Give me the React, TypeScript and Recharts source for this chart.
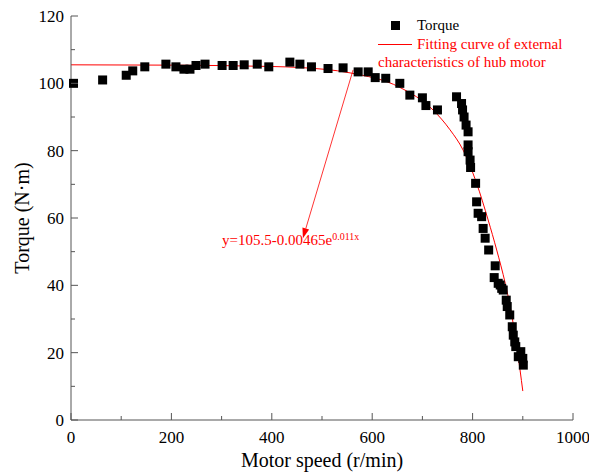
import React from "react"
import {
  ComposedChart,
  Scatter,
  Line,
  XAxis,
  YAxis,
  ReferenceLine,
} from "recharts"

const SERIF = "'Liberation Serif', 'Times New Roman', serif"
const AXIS = "#555"

const speed = [
  5, 63, 110, 123, 147, 189, 209, 225, 237, 249, 267, 301, 323, 345, 371, 394,
  436, 456, 479, 512, 542, 572, 592, 606, 627, 655, 675, 700, 707, 730, 768,
  778, 780, 783, 787, 791, 791, 791, 795, 796, 806, 808, 811, 818, 821, 825,
  832, 845, 843, 851, 855, 858, 861, 867, 869, 874, 879, 881, 884, 886, 891,
  896, 900, 901,
]
const torque = [
  100, 101, 102.4, 103.7, 104.9, 105.7, 104.9, 104.2, 104.2, 105.3, 105.7,
  105.3, 105.3, 105.5, 105.7, 104.9, 106.3, 105.7, 104.9, 104.4, 104.6, 103.4,
  103.4, 101.7, 101.5, 100, 96.5, 95.7, 93.4, 92.1, 96, 94, 92.1, 90, 87.6,
  85.6, 81.7, 79.7, 77.2, 75, 70.3, 64.8, 61.4, 60.4, 56.9, 54, 50.5, 45.8,
  42.3, 40.6, 40.1, 39.1, 38.6, 35.6, 33.7, 31.2, 27.7, 25.2, 23.2, 21.8, 18.8,
  20.3, 18.3, 16.3,
]

// fitted curve
const fitSpeed = [0, 200, 400, 456, 556, 655, 721, 755, 781, 808, 831, 848, 865, 875, 889, 900]
const fitTorque = [105.5, 105.4, 105, 104.7, 103.1, 98.8, 92.1, 86.2, 80.2, 70.3, 59.4, 50.5, 40.6, 33.6, 20.8, 8.6]

const xTicks = [0, 100, 200, 300, 400, 500, 600, 700, 800, 900, 1000]
const yTicks = [0, 10, 20, 30, 40, 50, 60, 70, 80, 90, 100, 110, 120]

// arrow from the curve down to the equation
const arrowFrom = { x: 562, y: 104 }
const arrowTo = { x: 462, y: 54 }

const points = speed.map((s, i) => ({ x: s, y: torque[i] }))
const fit = fitSpeed.map((s, i) => ({ x: s, y: fitTorque[i] }))

const Square = (p: any) => (
  <rect x={p.cx - 4.5} y={p.cy - 4.5} width={9} height={9} fill="#000" />
)

const XTick = ({ x, y, payload }: any) => {
  const major = payload.value % 200 === 0
  return (
    <g>
      <line x1={x} x2={x} y1={y} y2={y - (major ? 7 : 4)} stroke={AXIS} />
      {major && (
        <text x={x} y={y + 23} textAnchor="middle" fontSize={17} fontFamily={SERIF} fill="#000">
          {payload.value}
        </text>
      )}
    </g>
  )
}

const YTick = ({ x, y, payload }: any) => {
  const major = payload.value % 20 === 0
  return (
    <g>
      <line x1={x} x2={x + (major ? 7 : 4)} y1={y} y2={y} stroke={AXIS} />
      {major && (
        <text x={x - 7} y={y + 6} textAnchor="end" fontSize={17} fontFamily={SERIF} fill="#000">
          {payload.value}
        </text>
      )}
    </g>
  )
}

const Arrow = (p: any) => {
  const { x1, y1, x2, y2 } = p
  const a = Math.atan2(y2 - y1, x2 - x1)
  const len = 10
  const w = 3.5
  const bx = x2 - len * Math.cos(a)
  const by = y2 - len * Math.sin(a)
  const px = -Math.sin(a) * w
  const py = Math.cos(a) * w
  return (
    <g>
      <line x1={x1} y1={y1} x2={bx} y2={by} stroke="#f00" strokeWidth={0.8} />
      <polygon points={`${x2},${y2} ${bx + px},${by + py} ${bx - px},${by - py}`} fill="#f00" />
    </g>
  )
}

export default function App() {
  return (
    <div style={{ position: "absolute", left: 0, top: 0, width: 589, height: 472, background: "#fff", fontFamily: SERIF }}>
      <ComposedChart width={589} height={472} margin={{ top: 16, right: 16, bottom: 0, left: 11 }}>
        <XAxis
          xAxisId="b"
          type="number"
          dataKey="x"
          domain={[0, 1000]}
          ticks={xTicks}
          interval={0}
          tickSize={0}
          tickMargin={0}
          tickLine={false}
          tick={<XTick />}
          height={52}
          stroke={AXIS}
          allowDuplicatedCategory={false}
        />
        <XAxis xAxisId="t" orientation="top" type="number" domain={[0, 1000]} tick={false} tickLine={false} height={0} stroke={AXIS} />
        <YAxis
          yAxisId="l"
          type="number"
          domain={[0, 120]}
          ticks={yTicks}
          interval={0}
          tickSize={0}
          tickMargin={0}
          tickLine={false}
          tick={<YTick />}
          width={60}
          stroke={AXIS}
        />
        <YAxis yAxisId="r" orientation="right" type="number" domain={[0, 120]} tick={false} tickLine={false} width={0} stroke={AXIS} />
        <Scatter xAxisId="b" yAxisId="l" data={points} dataKey="y" shape={<Square />} isAnimationActive={false} />
        <Line
          xAxisId="b"
          yAxisId="l"
          data={fit}
          dataKey="y"
          type="monotone"
          stroke="#f00"
          strokeWidth={1}
          dot={false}
          isAnimationActive={false}
        />
        <ReferenceLine
          xAxisId="b"
          yAxisId="l"
          segment={[arrowFrom, arrowTo]}
          shape={<Arrow />}
          ifOverflow="visible"
        />
      </ComposedChart>

      <div style={{ position: "absolute", left: 12, top: 218, transform: "translate(-50%, -50%) rotate(-90deg)", transformOrigin: "center", fontSize: 20, whiteSpace: "nowrap", left: 22 } as any}>
        Torque (N·m)
      </div>
      <div style={{ position: "absolute", left: 322, top: 460, transform: "translate(-50%, -50%)", fontSize: 20, whiteSpace: "nowrap" }}>
        Motor speed (r/min)
      </div>

      <div style={{ position: "absolute", left: 222, top: 231, fontSize: 15, color: "#f00", whiteSpace: "nowrap", lineHeight: "18px" }}>
        y=105.5-0.00465e<sup style={{ fontSize: 10, verticalAlign: "5px", lineHeight: 0 }}>0.011x</sup>
      </div>

      <div style={{ position: "absolute", left: 390.5, top: 20.5, width: 9, height: 9, background: "#000" }} />
      <div style={{ position: "absolute", left: 417, top: 16, fontSize: 15, lineHeight: "18px", whiteSpace: "nowrap" }}>Torque</div>
      <div style={{ position: "absolute", left: 378, top: 43.5, width: 34, height: 1, background: "#f00" }} />
      <div style={{ position: "absolute", left: 417, top: 35, fontSize: 15, lineHeight: "18px", color: "#f00", whiteSpace: "nowrap" }}>
        Fitting curve of external
      </div>
      <div style={{ position: "absolute", left: 378, top: 53, fontSize: 15, lineHeight: "18px", color: "#f00", whiteSpace: "nowrap" }}>
        characteristics of hub motor
      </div>
    </div>
  )
}
